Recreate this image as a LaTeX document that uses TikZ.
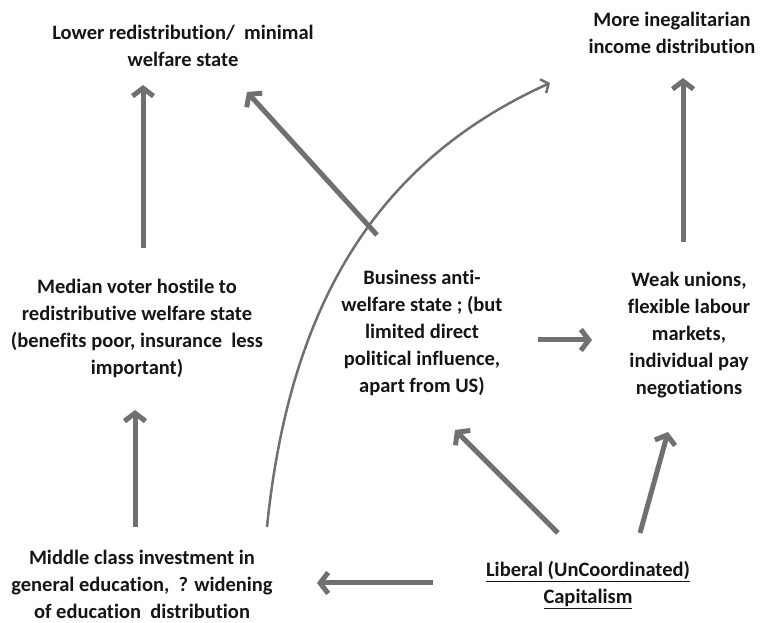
\documentclass[tikz,border=0pt]{standalone}
\usepackage{fontspec}
\setmainfont{Carlito}[Ligatures=NoCommon]
\usetikzlibrary{arrows.meta}

\definecolor{arrowgray}{HTML}{707070}
\definecolor{textblack}{HTML}{151515}

\begin{document}
\begin{tikzpicture}[x=1pt, y=1pt,
        box/.style={align=center, inner sep=0pt, text=textblack, font=\fontsize{20.5}{27}\selectfont\bfseries},
        flow/.style={draw=arrowgray, line width=5pt, -{Straight Barb[length=8pt, width=21pt]}},
        link/.style={draw=arrowgray, line width=2.5pt, -{Straight Barb[length=6pt, width=15pt]}}]
    \useasboundingbox (0,0) rectangle (761,623);

    \node[box] (lower) at (183, 577) {Lower redistribution/\ \ minimal\\welfare state};
    \node[box] (inegal) at (672, 590) {More inegalitarian\\income distribution};
    \node[box] (median) at (137, 295) {Median voter hostile to\\redistributive welfare state\\(benefits poor, insurance\ \ less\\important)};
    \node[box] (business) at (422, 290) {Business anti-\\welfare state ; (but\\limited direct\\political influence,\\apart from US)};
    \node[box] (weak) at (689, 288) {Weak unions,\\flexible labour\\markets,\\individual pay\\negotiations};
    \node[box] (middle) at (142, 39) {Middle class investment in\\general education,\ \ ? widening\\of education\ \ distribution};
    \node[box] (liberal) at (588, 38) {\underline{Liberal (UnCoordinated)}\\\underline{Capitalism}};

    \coordinate (medianTop) at (143, 375);
    \coordinate (lowerBot) at (143, 538);
    \coordinate (businessTop) at (377, 388);
    \coordinate (lowerBotR) at (247, 531);
    \coordinate (weakTop) at (683, 381);
    \coordinate (inegalBot) at (683, 545);
    \coordinate (middleTop) at (135, 96);
    \coordinate (medianBot) at (135, 213);
    \coordinate (liberalTopL) at (558, 90);
    \coordinate (businessBot) at (455, 193);
    \coordinate (liberalTopR) at (640, 90);
    \coordinate (weakBot) at (668, 191);
    \coordinate (liberalLeft) at (433, 40);
    \coordinate (middleRight) at (317, 40);
    \coordinate (businessRight) at (538, 283);
    \coordinate (weakLeft) at (592, 283);
    \coordinate (middleTopR) at (267, 96);
    \coordinate (inegalLeft) at (550, 540);

    \draw
    (medianTop) edge[flow] (lowerBot)
    (businessTop) edge[flow] (lowerBotR)
    (weakTop) edge[flow] (inegalBot)
    (middleTop) edge[flow] (medianBot)
    (liberalTopL) edge[flow] (businessBot)
    (liberalTopR) edge[flow] (weakBot)
    (liberalLeft) edge[flow] (middleRight)
    (businessRight) edge[flow] (weakLeft);

    \draw[link] (middleTopR) .. controls (290, 323) and (380, 463) .. (inegalLeft);
\end{tikzpicture}
\end{document}
